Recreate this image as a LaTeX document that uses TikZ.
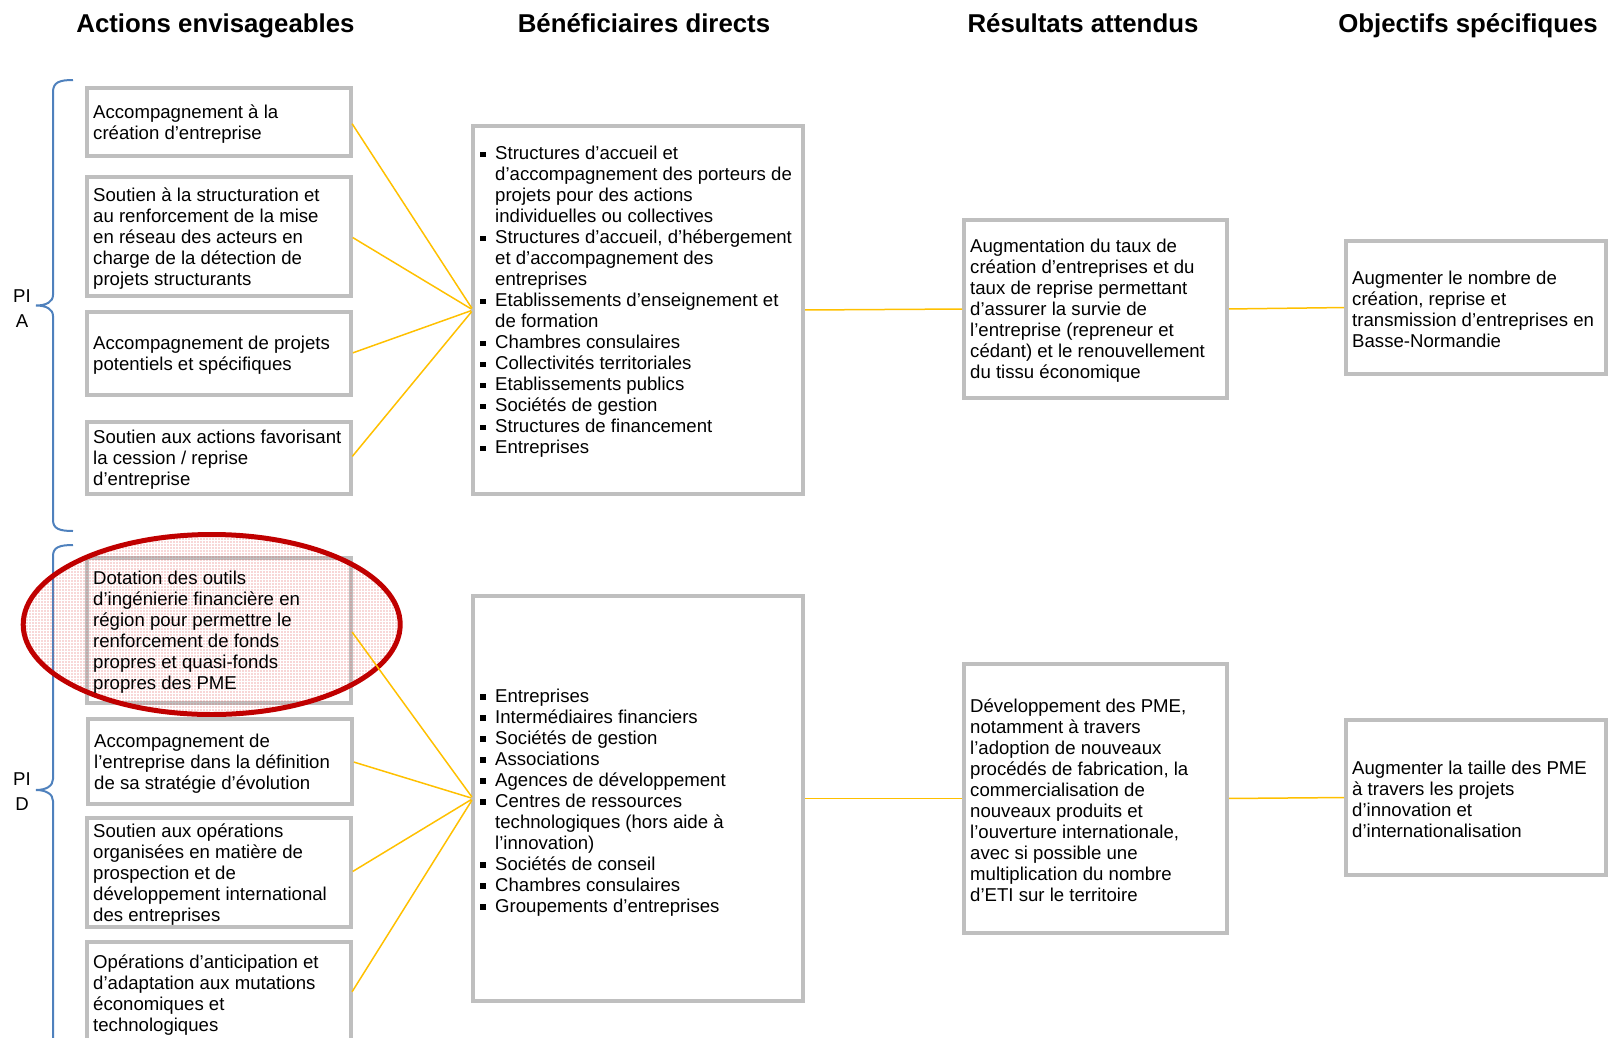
\documentclass[tikz,border=0pt]{standalone}
\usepackage{fontspec}
\setmainfont{Liberation Sans}
\usetikzlibrary{patterns.meta}
\definecolor{boxgray}{RGB}{191,191,191}
\definecolor{connyellow}{RGB}{255,192,0}
\definecolor{braceblue}{RGB}{79,129,189}
\definecolor{ellred}{RGB}{192,0,0}
\definecolor{dotred}{RGB}{225,85,85}
\newcommand{\bul}{\makebox[15pt][l]{\rule[2.4pt]{5.5pt}{5.5pt}}}
\newcommand{\ind}{\hspace*{15pt}}
\newcommand{\myboxnode}[5]{%
  \node[boxst, minimum width={#4-#2}, minimum height={#5-#3}] (#1) at ({(#2+#4)/2},{(#3+#5)/2}) {};}
\newcommand{\mybox}[6]{%
  \myboxnode{#1}{#2}{#3}{#4}{#5}%
  \node[txtst] (#1t) at (#1.west) {#6};}
\begin{document}
\begin{tikzpicture}[x=1pt,y=-1pt,
  boxst/.style={draw=boxgray, line width=4pt, fill=white, rectangle, outer sep=0pt, inner sep=0pt},
  txtst/.style={anchor=west, align=left, inner xsep=6pt, inner ysep=0pt, yshift=-2pt, font=\fontsize{18.6}{21}\selectfont, text=black},
  head/.style={font=\fontsize{25.8}{30}\selectfont\bfseries, inner sep=0pt, anchor=base},
  connline/.style={draw=connyellow, line width=1.5pt, shorten >=2pt, shorten <=2pt},
  bracest/.style={draw=braceblue, line width=2pt},
  pilab/.style={align=center, font=\fontsize{18.6}{25}\selectfont, inner sep=0pt}]
\useasboundingbox (0,0) rectangle (1610,1037);
\clip (0,0) rectangle (1610,1037);

% headers
\node[head] (h1) at (215.5,32) {Actions envisageables};
\node[head] (h2) at (644,32) {Bénéficiaires directs};
\node[head] (h3) at (1083,32) {Résultats attendus};
\node[head] (h4) at (1468,32) {Objectifs spécifiques};

% braces
\draw[bracest] (73,80) .. controls (60,80) and (53,82) .. (53,92) -- (53,295)
  .. controls (53,302) and (46,305.5) .. (36,305.5)
  .. controls (46,305.5) and (53,309) .. (53,316) -- (53,520)
  .. controls (53,529) and (60,531) .. (73,531);
\draw[bracest] (73,545) .. controls (60,545) and (53,547) .. (53,556) -- (53,779)
  .. controls (53,786) and (46,790) .. (36,790)
  .. controls (46,790) and (53,794) .. (53,801) -- (53,1045);
\node[pilab] (pia) at (22,308.5) {PI\\A};
\node[pilab] (pid) at (22,791.5) {PI\\D};

% left column
\mybox{a1}{87}{88}{351}{156}{Accompagnement à la\\création d’entreprise}
\mybox{a2}{87}{177}{351}{296}{Soutien à la structuration et\\au renforcement de la mise\\en réseau des acteurs en\\charge de la détection de\\projets structurants}
\mybox{a3}{87}{312}{351}{395}{Accompagnement de projets\\potentiels et spécifiques}
\mybox{a4}{87}{422}{351}{494}{Soutien aux actions favorisant\\la cession / reprise\\d’entreprise}
\myboxnode{a5}{87}{558}{351}{703}
\draw[ellred, line width=5pt, pattern={Dots[distance=3pt,radius=0.7pt]}, pattern color=dotred]
  (211.7,624.5) ellipse [x radius=188.5, y radius=90];
\node[txtst] (a5t) at (a5.west) {Dotation des outils\\d’ingénierie financière en\\région pour permettre le\\renforcement de fonds\\propres et quasi-fonds\\propres des PME};
\mybox{a6}{88}{719}{352}{804}{Accompagnement de\\l’entreprise dans la définition\\de sa stratégie d’évolution}
\mybox{a7}{87}{818}{351}{927}{Soutien aux opérations\\organisées en matière de\\prospection et de\\développement international\\des entreprises}
\mybox{a8}{87}{942}{351}{1045}{Opérations d’anticipation et\\d’adaptation aux mutations\\économiques et\\technologiques}

% middle column
\myboxnode{m1}{473}{126}{803}{494}
\node[txtst, inner xsep=7pt] (m1t) at ([yshift=10pt]m1.west) {\bul Structures d’accueil et\\
\ind d’accompagnement des porteurs de\\
\ind projets pour des actions\\
\ind individuelles ou collectives\\
\bul Structures d’accueil, d’hébergement\\
\ind et d’accompagnement des\\
\ind entreprises\\
\bul Etablissements d’enseignement et\\
\ind de formation\\
\bul Chambres consulaires\\
\bul Collectivités territoriales\\
\bul Etablissements publics\\
\bul Sociétés de gestion\\
\bul Structures de financement\\
\bul Entreprises};
\myboxnode{m2}{473}{596}{803}{1001}
\node[txtst, inner xsep=7pt] (m2t) at ([yshift=-2pt]m2.west) {\bul Entreprises\\
\bul Intermédiaires financiers\\
\bul Sociétés de gestion\\
\bul Associations\\
\bul Agences de développement\\
\bul Centres de ressources\\
\ind technologiques (hors aide à\\
\ind l’innovation)\\
\bul Sociétés de conseil\\
\bul Chambres consulaires\\
\bul Groupements d’entreprises};

% results
\mybox{r1}{964}{220}{1227}{398}{Augmentation du taux de\\création d’entreprises et du\\taux de reprise permettant\\d’assurer la survie de\\l’entreprise (repreneur et\\cédant) et le renouvellement\\du tissu économique}
\mybox{r2}{964}{664}{1227}{933}{Développement des PME,\\notamment à travers\\l’adoption de nouveaux\\procédés de fabrication, la\\commercialisation de\\nouveaux produits et\\l’ouverture internationale,\\avec si possible une\\multiplication du nombre\\d’ETI sur le territoire}

% objectives
\mybox{o1}{1346}{241}{1606}{374}{Augmenter le nombre de\\création, reprise et\\transmission d’entreprises en\\Basse-Normandie}
\mybox{o2}{1346}{720}{1606}{875}{Augmenter la taille des PME\\à travers les projets\\d’innovation et\\d’internationalisation}

% connectors
\foreach \s in {a1,a2,a3,a4} \draw[connline] (\s.east) -- (m1.west);
\foreach \s in {a5,a6,a7,a8} \draw[connline] (\s.east) -- (m2.west);
\draw[connline] (m1.east) -- (r1.west);
\draw[connline] (r1.east) -- (o1.west);
\draw[connline] (m2.east) -- (r2.west);
\draw[connline] (r2.east) -- (o2.west);
\end{tikzpicture}
\end{document}
